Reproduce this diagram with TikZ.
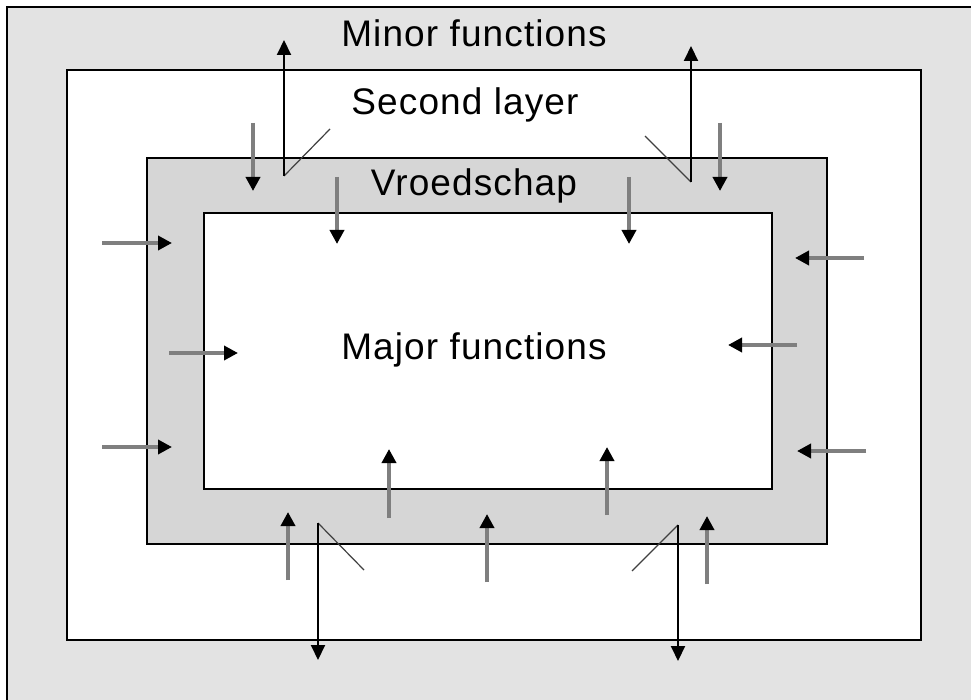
\documentclass[tikz,border=0pt]{standalone}
\usepackage{fontspec}
\setmainfont{Liberation Sans}[LetterSpace=3]
\usetikzlibrary{arrows.meta}
\definecolor{outerbg}{HTML}{E3E3E3}
\definecolor{bandbg}{HTML}{D6D6D6}
\definecolor{shaftgray}{HTML}{7F7F7F}
\begin{document}
\begin{tikzpicture}[x=1pt,y=-1pt,
  frame/.style={draw=black,line width=2pt},
  grayarrow/.style={draw=shaftgray,line width=3.5pt,
    -{Triangle[length=14pt,width=14pt,color=black]}},
  longarrow/.style={draw=black,line width=2pt,
    -{Triangle[length=15pt,width=14pt]}},
  diag/.style={draw=black!75,line width=1.2pt},
  label/.style={inner sep=0pt,anchor=base,font=\fontsize{37}{44}\selectfont}]
\useasboundingbox (0,0) rectangle (971,700);
% outer area
\fill[white] (0,0) rectangle (971,700);
\fill[outerbg] (7,7) rectangle (971,700);
\draw[frame] (7,701) -- (7,7) -- (971,7);
% second layer
\node[frame,fill=white,inner sep=0pt,minimum width=854pt,minimum height=570pt,anchor=north west] (second) at (66,69) {};
% vroedschap band
\node[frame,fill=bandbg,inner sep=0pt,minimum width=680pt,minimum height=386pt,anchor=north west] (vroed) at (146,157) {};
% major
\node[frame,fill=white,inner sep=0pt,minimum width=568pt,minimum height=276pt,anchor=north west] (major) at (203,212) {};
% labels
\node[label] (tminor) at (474,47) {Minor functions};
\node[label] (tsecond) at (465,115) {Second layer};
\node[label] (tvroed) at (474,196) {Vroedschap};
\node[label] (tmajor) at (474,359) {Major functions};
% coordinates for gray arrows
\coordinate (g1s) at (253,123); \coordinate (g1e) at (253,191);
\coordinate (g2s) at (720,123); \coordinate (g2e) at (720,191);
\coordinate (g3s) at (337,177); \coordinate (g3e) at (337,244);
\coordinate (g4s) at (629,177); \coordinate (g4e) at (629,244);
\coordinate (g5s) at (102,243); \coordinate (g5e) at (172,243);
\coordinate (g6s) at (169,353); \coordinate (g6e) at (238,353);
\coordinate (g7s) at (102,447); \coordinate (g7e) at (172,447);
\coordinate (g8s) at (864,258); \coordinate (g8e) at (795,258);
\coordinate (g9s) at (797,345); \coordinate (g9e) at (728,345);
\coordinate (g10s) at (866,451); \coordinate (g10e) at (797,451);
\coordinate (g11s) at (288,580); \coordinate (g11e) at (288,512);
\coordinate (g12s) at (389,518); \coordinate (g12e) at (389,449);
\coordinate (g13s) at (487,582); \coordinate (g13e) at (487,514);
\coordinate (g14s) at (607,515); \coordinate (g14e) at (607,447);
\coordinate (g15s) at (707,584); \coordinate (g15e) at (707,516);
\foreach \i in {1,...,15} {\draw[grayarrow] (g\i s) -- (g\i e);}
% long arrows with diagonal ticks
\coordinate (l1s) at (284,176); \coordinate (l1e) at (284,40); \coordinate (d1) at (330,129);
\coordinate (l2s) at (691,182); \coordinate (l2e) at (691,46); \coordinate (d2) at (645,136);
\coordinate (l3s) at (318,523); \coordinate (l3e) at (318,660); \coordinate (d3) at (364,570);
\coordinate (l4s) at (678,525); \coordinate (l4e) at (678,661); \coordinate (d4) at (632,571);
\foreach \i in {1,...,4} {
  \draw[diag] (l\i s) -- (d\i);
  \draw[longarrow] (l\i s) -- (l\i e);
}
\end{tikzpicture}
\end{document}
